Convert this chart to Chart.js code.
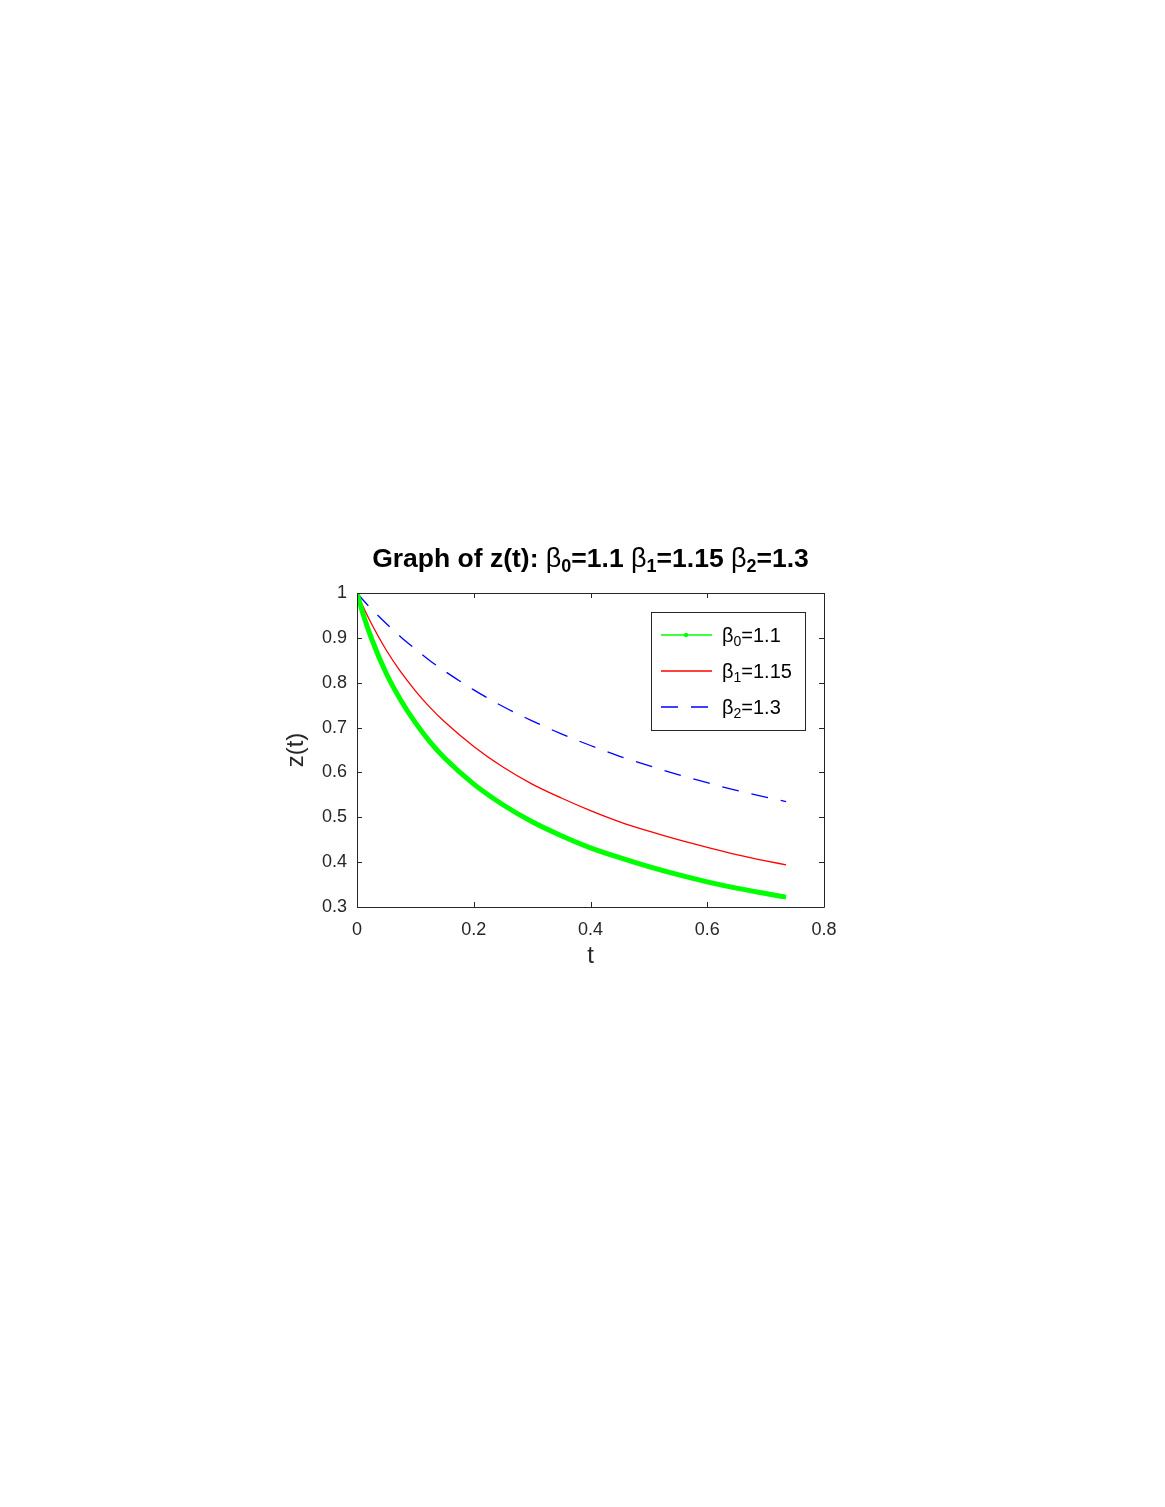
<!DOCTYPE html>
<html>
<head>
<meta charset="utf-8">
<script src="https://cdn.jsdelivr.net/npm/chart.js@4.4.1/dist/chart.umd.min.js"></script>
<style>
  html, body { margin: 0; padding: 0; background: #fff; }
  #wrap { position: absolute; left: 0; top: 0; width: 1165px; height: 1507px; }
</style>
</head>
<body>
<div id="wrap"><canvas id="zChart" width="1165" height="1507"></canvas></div>
<script>
// values
const tValues = [0, 0.01, 0.025, 0.05, 0.075, 0.1, 0.125, 0.15, 0.2, 0.25, 0.3, 0.35, 0.4, 0.45, 0.5, 0.55, 0.6, 0.65, 0.7, 0.735];
const zBeta0 = [1, 0.955, 0.898, 0.821, 0.761, 0.711, 0.668, 0.632, 0.574, 0.528, 0.490, 0.459, 0.432, 0.410, 0.390, 0.372, 0.356, 0.342, 0.330, 0.322];
const zBeta1 = [1, 0.971, 0.931, 0.873, 0.824, 0.782, 0.745, 0.713, 0.658, 0.612, 0.574, 0.543, 0.515, 0.490, 0.469, 0.450, 0.433, 0.417, 0.403, 0.394];
const zBeta2 = [1, 0.985, 0.964, 0.932, 0.902, 0.875, 0.849, 0.826, 0.784, 0.747, 0.715, 0.686, 0.660, 0.636, 0.615, 0.595, 0.577, 0.560, 0.545, 0.535];

const betaValues = ['1.1', '1.15', '1.3'];
const xTicks = [0, 0.2, 0.4, 0.6, 0.8];
const xTickLabels = ['0', '0.2', '0.4', '0.6', '0.8'];
const yTicks = [0.3, 0.4, 0.5, 0.6, 0.7, 0.8, 0.9, 1];
const yTickLabels = ['0.3', '0.4', '0.5', '0.6', '0.7', '0.8', '0.9', '1'];

const lineColors = ['#00ff00', '#ff0000', '#0000ff'];
const lineDashes = [[], [], [17, 13]];
const axisColor = '#262626';
const sans = '"Liberation Sans", Arial, sans-serif';

function toPoints(ys) {
    return tValues.map((t, i) => ({ x: t, y: ys[i] }));
}

// draw text made of pieces, some of them subscripts
function drawRich(ctx, x, y, parts, align) {
    let total = 0;
    parts.forEach(p => { ctx.font = p.font; total += ctx.measureText(p.text).width; });
    let cx = align === 'center' ? x - total / 2 : x;
    ctx.textAlign = 'left';
    ctx.textBaseline = 'alphabetic';
    parts.forEach(p => {
        ctx.font = p.font;
        ctx.fillText(p.text, cx, y + (p.dy || 0));
        cx += ctx.measureText(p.text).width;
    });
}

const framePlugin = {
    id: 'frame',
    afterDatasetsDraw(chart) {
        const ctx = chart.ctx;
        const a = chart.chartArea;
        const xs = chart.scales.x, ys = chart.scales.y;
        const tick = 5;
        ctx.save();
        ctx.strokeStyle = axisColor;
        ctx.lineWidth = 1;
        ctx.beginPath();
        ctx.rect(Math.round(a.left) + 0.5, Math.round(a.top) + 0.5, Math.round(a.right - a.left), Math.round(a.bottom - a.top));
        xTicks.forEach(v => {
            const px = Math.round(xs.getPixelForValue(v)) + 0.5;
            ctx.moveTo(px, a.bottom); ctx.lineTo(px, a.bottom - tick);
            ctx.moveTo(px, a.top); ctx.lineTo(px, a.top + tick);
        });
        yTicks.forEach(v => {
            const py = Math.round(ys.getPixelForValue(v)) + 0.5;
            ctx.moveTo(a.left, py); ctx.lineTo(a.left + tick, py);
            ctx.moveTo(a.right, py); ctx.lineTo(a.right - tick, py);
        });
        ctx.stroke();

        // title
        ctx.fillStyle = '#000';
        const bold = 'bold 26.5px ' + sans;
        const sub = 'bold 18px ' + sans;
        const greek = '27px ' + sans;
        const parts = [{ text: 'Graph of z(t): ', font: bold }];
        betaValues.forEach((b, i) => {
            parts.push({ text: 'β', font: greek });
            parts.push({ text: String(i), font: sub, dy: 5 });
            parts.push({ text: '=' + b + (i < betaValues.length - 1 ? ' ' : ''), font: bold });
        });
        drawRich(ctx, (a.left + a.right) / 2, 567, parts, 'center');

        // axis labels
        ctx.font = '24px ' + sans;
        ctx.fillStyle = axisColor;
        ctx.textAlign = 'center';
        ctx.textBaseline = 'middle';
        ctx.fillText('t', (a.left + a.right) / 2, 956);
        ctx.save();
        ctx.translate(296, (a.top + a.bottom) / 2);
        ctx.rotate(-Math.PI / 2);
        ctx.fillText('z(t)', 0, 0);
        ctx.restore();

        // legend box
        const lx = 651, ly = 612, lw = 154, lh = 118;
        ctx.fillStyle = '#fff';
        ctx.fillRect(lx, ly, lw, lh);
        ctx.strokeStyle = axisColor;
        ctx.strokeRect(lx + 0.5, ly + 0.5, lw, lh);
        const rows = [635, 671, 707];
        betaValues.forEach((b, i) => {
            const ry = rows[i];
            ctx.save();
            ctx.strokeStyle = lineColors[i];
            ctx.lineWidth = 1.4;
            ctx.setLineDash(lineDashes[i]);
            ctx.beginPath();
            ctx.moveTo(661, ry);
            ctx.lineTo(712, ry);
            ctx.stroke();
            if (i === 0) {
                ctx.fillStyle = lineColors[i];
                ctx.beginPath();
                ctx.arc(686, ry, 2.2, 0, Math.PI * 2);
                ctx.fill();
            }
            ctx.restore();
            ctx.fillStyle = '#000';
            drawRich(ctx, 722, rows[i] + 7, [
                { text: 'β', font: '20px ' + sans },
                { text: String(i), font: '14px ' + sans, dy: 4 },
                { text: '=' + b, font: '20px ' + sans }
            ], 'left');
        });
        ctx.restore();
    }
};

const ctx = document.getElementById('zChart').getContext('2d');
const zChart = new Chart(ctx, {
    type: 'line',
    data: {
        datasets: [zBeta0, zBeta1, zBeta2].map((ys, i) => ({
            label: 'β' + i + '=' + betaValues[i],
            data: toPoints(ys),
            borderColor: lineColors[i],
            borderWidth: i === 0 ? 5 : 1.3,
            borderDash: lineDashes[i],
            pointRadius: 0,
            cubicInterpolationMode: 'monotone'
        }))
    },
    options: {
        responsive: false,
        animation: false,
        devicePixelRatio: 1,
        layout: { padding: { left: 0, top: 593, right: 341, bottom: 0 } },
        plugins: {
            legend: { display: false },
            title: { display: false },
            tooltip: { enabled: false }
        },
        scales: {
            x: {
                type: 'linear',
                min: 0,
                max: 0.8,
                grid: { display: false, drawTicks: false },
                border: { display: false },
                afterBuildTicks: s => { s.ticks = xTicks.map(v => ({ value: v })); },
                afterFit: s => { s.height = 600; },
                ticks: {
                    color: axisColor,
                    font: { family: sans, size: 18 },
                    padding: 12,
                    maxRotation: 0,
                    callback: (v, i) => xTickLabels[i]
                }
            },
            y: {
                min: 0.3,
                max: 1,
                grid: { display: false, drawTicks: false },
                border: { display: false },
                afterBuildTicks: s => { s.ticks = yTicks.map(v => ({ value: v })); },
                afterFit: s => { s.width = 357; },
                ticks: {
                    color: axisColor,
                    font: { family: sans, size: 18 },
                    padding: 10,
                    callback: (v, i) => yTickLabels[i]
                }
            }
        }
    },
    plugins: [framePlugin]
});
</script>
</body>
</html>
